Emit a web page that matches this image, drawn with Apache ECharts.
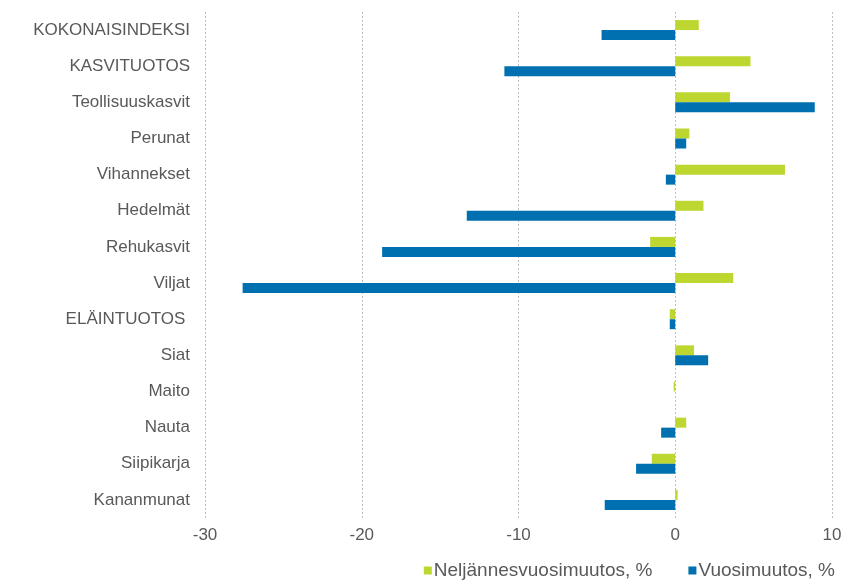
<!DOCTYPE html>
<html><head><meta charset="utf-8">
<script src="https://cdn.jsdelivr.net/npm/echarts@6/dist/echarts.min.js"></script>
<style>html,body{margin:0;padding:0;background:#fff}#c{width:848px;height:581px}</style>
</head><body><div id="c"></div>
<script>
const categories = ["KOKONAISINDEKSI","KASVITUOTOS","Teollisuuskasvit","Perunat","Vihannekset","Hedelmät","Rehukasvit","Viljat","ELÄINTUOTOS ","Siat","Maito","Nauta","Siipikarja","Kananmunat"];
const quarterly = [1.5, 4.8, 3.5, 0.9, 7.0, 1.8, -1.6, 3.7, -0.35, 1.2, -0.1, 0.7, -1.5, 0.15];
const yearly = [-4.7, -10.9, 8.9, 0.7, -0.6, -13.3, -18.7, -27.6, -0.35, 2.1, 0, -0.9, -2.5, -4.5];
const seriesNames = ["Neljännesvuosimuutos, %", "Vuosimuutos, %"];
const xTicks = {min: -30, max: 10, interval: 10};

const chart = echarts.init(document.getElementById('c'), null, {renderer: 'canvas'});
chart.setOption({
  animation: false,
  textStyle: {fontFamily: 'Liberation Sans, Arial, sans-serif'},
  grid: {left: 205, right: 16, top: 12, bottom: 63},
  legend: {
    data: seriesNames, right: 8, bottom: -4, icon: 'rect', itemWidth: 8, itemHeight: 8, itemGap: 36,
    textStyle: {color: '#595959', fontSize: 19, padding: [0,0,0,-3]}
  },
  xAxis: {
    type: 'value', min: xTicks.min, max: xTicks.max, interval: xTicks.interval,
    axisLine: {show: false}, axisTick: {show: false},
    axisLabel: {color: '#595959', fontSize: 17, margin: 9},
    splitLine: {show: true, lineStyle: {color: '#BFBFBF', type: [2, 2], width: 1}}
  },
  yAxis: {
    type: 'category', data: categories, inverse: true,
    axisLine: {show: false}, axisTick: {show: false},
    axisLabel: {color: '#595959', fontSize: 17, margin: 15}
  },
  series: [
    {name: seriesNames[0], type: 'bar', data: quarterly, barWidth: 10, barGap: '0%', itemStyle: {color: '#BED630'}},
    {name: seriesNames[1], type: 'bar', data: yearly, barWidth: 10, barGap: '0%', itemStyle: {color: '#0070B0'}}
  ]
});
</script></body></html>
